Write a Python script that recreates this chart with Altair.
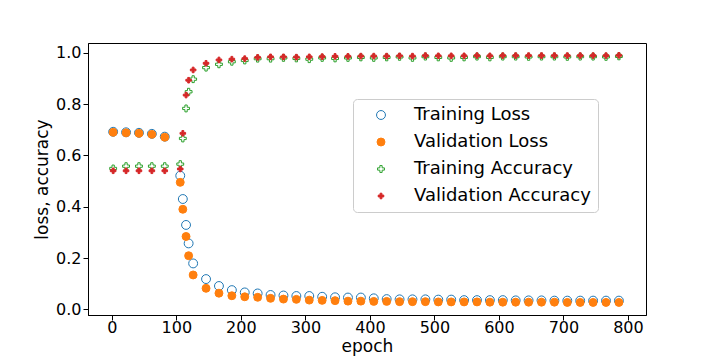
import altair as alt
import pandas as pd

epochs = [2, 22, 42, 62, 82, 106, 110, 115, 119, 126, 146, 166, 186, 206, 226, 246, 266,
          286, 306, 326, 346, 366, 386, 406, 426, 446, 466, 486, 506, 526, 546, 566, 586,
          606, 626, 646, 666, 686, 706, 726, 746, 766, 786]

train_loss = [0.692, 0.690, 0.688, 0.684, 0.673, 0.521, 0.430, 0.329, 0.257, 0.179, 0.118, 0.091,
              0.075, 0.066, 0.062, 0.056, 0.054,
              0.052, 0.052, 0.049, 0.047, 0.046, 0.046, 0.043, 0.040, 0.039, 0.039, 0.039, 0.038,
              0.038, 0.036, 0.036, 0.036, 0.036, 0.035, 0.035, 0.035, 0.034, 0.034, 0.034, 0.034,
              0.034, 0.034]

val_loss = [0.690, 0.688, 0.686, 0.682, 0.671, 0.495, 0.390, 0.284, 0.209, 0.134, 0.082, 0.063,
            0.053, 0.049, 0.047, 0.043, 0.040,
            0.039, 0.036, 0.035, 0.034, 0.032, 0.032, 0.031, 0.031, 0.030, 0.030, 0.030, 0.029,
            0.029, 0.029, 0.029, 0.028, 0.028, 0.028, 0.028, 0.028, 0.028, 0.027, 0.027, 0.027,
            0.027, 0.027]

train_acc = [0.549, 0.558, 0.558, 0.558, 0.558, 0.566, 0.666, 0.783, 0.848, 0.897, 0.942, 0.955,
             0.965, 0.970, 0.977, 0.977, 0.980,
             0.978, 0.975, 0.980, 0.978, 0.980, 0.982, 0.980, 0.982, 0.984, 0.980, 0.985, 0.982,
             0.980, 0.982, 0.985, 0.982, 0.985, 0.985, 0.984, 0.985, 0.985, 0.984, 0.985, 0.985,
             0.984, 0.986]

val_acc = [0.540, 0.540, 0.540, 0.540, 0.540, 0.547, 0.686, 0.835, 0.893, 0.933, 0.959, 0.972,
           0.975, 0.977, 0.982, 0.984, 0.984,
           0.983, 0.984, 0.985, 0.986, 0.986, 0.987, 0.987, 0.987, 0.988, 0.987, 0.989, 0.988,
           0.988, 0.988, 0.989, 0.988, 0.989, 0.989, 0.989, 0.989, 0.989, 0.989, 0.989, 0.989,
           0.989, 0.990]

series_names = ["Training Loss", "Validation Loss", "Training Accuracy", "Validation Accuracy"]
series_values = [train_loss, val_loss, train_acc, val_acc]

rows = []
for name, vals in zip(series_names, series_values):
    for e, v in zip(epochs, vals):
        rows.append({"epoch": e, "value": v, "series": name})
df = pd.DataFrame(rows)

PLUS = ("M-0.333,-1L0.333,-1L0.333,-0.333L1,-0.333L1,0.333L0.333,0.333L0.333,1"
        "L-0.333,1L-0.333,0.333L-1,0.333L-1,-0.333L-0.333,-0.333Z")

legend = alt.Legend(
    orient="none", legendX=265, legendY=56, title=None,
    labelFontSize=18, labelFont="DejaVu Sans", labelColor="black", labelLimit=400,
    fillColor="white", strokeColor="#cccccc", cornerRadius=4,
    padding=7, symbolOffset=12, labelOffset=24, rowPadding=9,
    symbolStrokeWidth=1,
)

chart = alt.Chart(df).mark_point(opacity=1, strokeWidth=1).encode(
    x=alt.X("epoch:Q", title="epoch",
            scale=alt.Scale(domain=[-37, 828], nice=False, zero=False),
            axis=alt.Axis(values=[0, 100, 200, 300, 400, 500, 600, 700, 800])),
    y=alt.Y("value:Q", title="loss, accuracy",
            scale=alt.Scale(domain=[-0.022, 1.038], nice=False, zero=False),
            axis=alt.Axis(values=[0, 0.2, 0.4, 0.6, 0.8, 1.0], format=".1f")),
    shape=alt.Shape("series:N", scale=alt.Scale(domain=series_names,
                    range=["circle", "circle", PLUS, PLUS]), legend=legend),
    fill=alt.Fill("series:N", scale=alt.Scale(domain=series_names,
                  range=["transparent", "#ff7f0e", "transparent", "#d62728"]), legend=legend),
    stroke=alt.Stroke("series:N", scale=alt.Scale(domain=series_names,
                      range=["#1f77b4", "#ff7f0e", "#2ca02c", "#d62728"]), legend=legend),
    size=alt.Size("series:N", scale=alt.Scale(domain=series_names,
                  range=[79, 31, 100, 56]), legend=legend),
).properties(
    width=558, height=272,
    padding={"left": 25, "top": 35, "right": 5, "bottom": 5},
).configure_view(
    stroke="black", strokeWidth=1
).configure_axis(
    grid=False, domainColor="black", tickColor="black", labelColor="black",
    titleColor="black", labelFont="DejaVu Sans", titleFont="DejaVu Sans",
    labelFontSize=16, titleFontSize=17, titleFontWeight="normal",
    tickSize=5, labelPadding=2, domainWidth=1, tickWidth=1,
).configure_axisY(titlePadding=4).configure_axisX(labelPadding=-1, titlePadding=3)

chart.save("out.html", embed_options={"renderer": "svg", "actions": False})
